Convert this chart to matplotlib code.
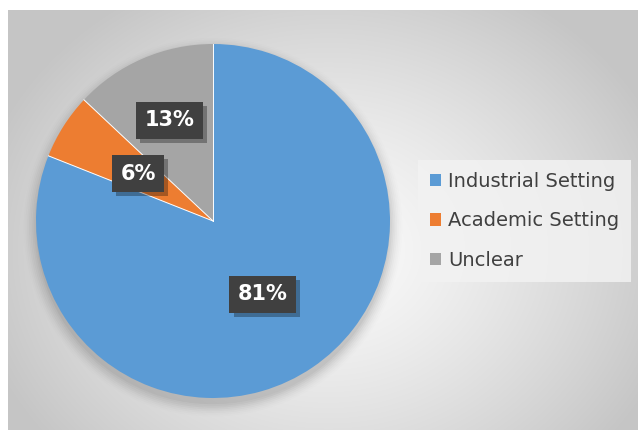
import numpy as np
import matplotlib
matplotlib.use("Agg")
import matplotlib.pyplot as plt
from matplotlib import patheffects as pe

categories = ["Industrial Setting", "Academic Setting", "Unclear"]
shares = [81, 6, 13]
pct_labels = ["81%", "6%", "13%"]
colors = ["#5B9BD5", "#ED7D31", "#A5A5A5"]
label_radius = [0.50, 0.50, 0.62]

W, H = 638, 430
fig = plt.figure(figsize=(W / 100, H / 100), dpi=100)
fig.patch.set_facecolor("white")

# radial grey-to-white background panel
bg = fig.add_axes([8 / W, 0, 630 / W, 420 / H])
bg.set_axis_off()
yy, xx = np.mgrid[0:420, 0:630]
cx, cy = 320, 240
d = np.sqrt(((xx - cx) / 360.0) ** 2 + ((yy - cy) / 300.0) ** 2)
d = np.clip(d, 0, 1)
lum = 0.985 - 0.21 * d ** 1.3
bg.imshow(np.dstack([lum, lum, lum]), extent=[0, 630, 420, 0], aspect="auto",
          interpolation="bilinear")

# pie
R = 177
pcx, pcy = 213, 221
ax = fig.add_axes([(pcx - R) / W, (H - pcy - R) / H, 2 * R / W, 2 * R / H])
ax.set_axis_off()

# soft drop shadow under the pie
for i, a in enumerate(np.linspace(0.035, 0.008, 8)):
    ax.add_patch(plt.Circle((0.0, -0.035), 1.0 + 0.01 * i, color="black",
                            alpha=a, lw=0, zorder=0, clip_on=False))

wedges, _ = ax.pie(shares, colors=colors, startangle=90, counterclock=False,
                   radius=1.0, wedgeprops=dict(linewidth=0),
                   center=(0, 0), frame=False)
ax.set_xlim(-1, 1)
ax.set_ylim(-1, 1)
ax.set_aspect("auto")

# thin white separators along the slice boundaries
for w in wedges:
    th = np.deg2rad(w.theta1)
    ax.plot([0, np.cos(th)], [0, np.sin(th)], color="white", lw=0.7, zorder=3)

for w, lab, r in zip(wedges, pct_labels, label_radius):
    mid = np.deg2rad((w.theta1 + w.theta2) / 2)
    x, y = r * np.cos(mid), r * np.sin(mid)
    t = ax.text(x, y, lab, ha="center", va="center", fontsize=15,
                fontweight="bold", color="white",
                bbox=dict(boxstyle="square,pad=0.4", fc="#404040", ec="none"),
                zorder=6)
    t.get_bbox_patch().set_path_effects([
        pe.SimplePatchShadow(offset=(3, -3), shadow_rgbFace="black", alpha=0.3),
        pe.Normal(),
    ])

# legend
handles = [plt.Rectangle((0, 0), 1, 1, fc=c, ec="none") for c in colors]
leg = fig.legend(handles, categories, loc="center left",
                 bbox_to_anchor=(418 / W, 1 - 221 / H), frameon=True,
                 fontsize=14, handlelength=0.6, handleheight=0.6,
                 handletextpad=0.35, labelspacing=1.05, borderpad=0.6,
                 borderaxespad=0, fancybox=False, labelcolor="#404040")
leg.get_frame().set_facecolor("#f2f2f2")
leg.get_frame().set_edgecolor("none")
leg.get_frame().set_alpha(0.85)

fig.savefig("out.png", dpi=100)
